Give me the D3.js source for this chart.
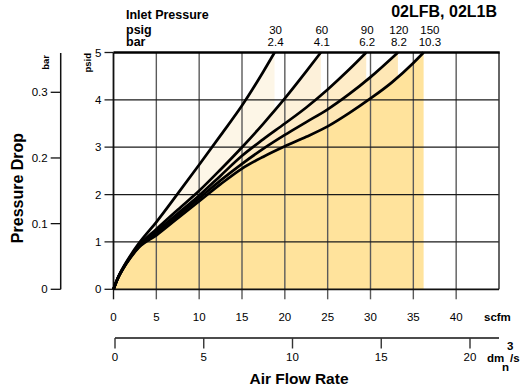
<!DOCTYPE html>
<html>
<head>
<meta charset="utf-8">
<script src="https://cdn.jsdelivr.net/npm/d3@7"></script>
<style>
  html, body { margin: 0; padding: 0; background: #fff; }
  svg { display: block; font-family: "Liberation Sans", Arial, Helvetica, sans-serif; }
</style>
</head>
<body>
<svg id="chart" width="527" height="391"></svg>
<script>
// Inlet pressure series (psig and bar labels)
const inletPsig = [30, 60, 90, 120, 150];
const inletBar = ["2.4", "4.1", "6.2", "8.2", "10.3"];

// Pressure drop curves: [flow scfm, pressure drop psid]
const curve30 = [[0,0],[0.5,0.24],[1,0.42],[2,0.72],[3,0.98],[5,1.42],[7.5,2.02],[10,2.63],[12.5,3.25],[15,3.88],[17.5,4.6],[18.8,5.0]];
const curve60 = [[0,0],[0.5,0.23],[1,0.41],[2,0.7],[3,0.93],[5,1.27],[7.5,1.68],[10,2.08],[12.5,2.53],[15,3.0],[17.5,3.5],[20,4.03],[22.5,4.6],[24.2,5.0]];
const curve90 = [[0,0],[0.5,0.23],[1,0.4],[2,0.69],[3,0.92],[5,1.22],[7.5,1.6],[10,1.98],[12.5,2.4],[15,2.82],[17.5,3.17],[20,3.5],[22.5,3.84],[25,4.22],[27.5,4.64],[29.5,5.0]];
const curve120 = [[0,0],[0.5,0.23],[1,0.4],[2,0.68],[3,0.9],[5,1.18],[7.5,1.55],[10,1.92],[12.5,2.3],[15,2.65],[17.5,2.97],[20,3.26],[22.5,3.53],[25,3.8],[27.5,4.12],[30,4.48],[33.2,5.0]];
const curve150 = [[0,0],[0.5,0.23],[1,0.4],[2,0.67],[3,0.89],[5,1.14],[7.5,1.5],[10,1.86],[12.5,2.22],[15,2.55],[17.5,2.8],[20,3.02],[22.5,3.22],[25,3.44],[27.5,3.72],[30,4.03],[32.5,4.37],[35,4.78],[36.2,5.0]];
const curves = [curve30, curve60, curve90, curve120, curve150];

// Tick values
const scfmTicks = [0, 5, 10, 15, 20, 25, 30, 35, 40];
const psidTicks = [0, 1, 2, 3, 4, 5];
const barTicks = [0, 0.1, 0.2, 0.3];
const dmTicks = [0, 5, 10, 15, 20];

const fills = ["#FDF6E7", "#FDF1DA", "#FEECC8", "#FEE7B5", "#FFE39C"];

const svg = d3.select("#chart");

const x = d3.scaleLinear().domain([0, 45]).range([113.5, 499]);
const y = d3.scaleLinear().domain([0, 5]).range([289.3, 52.5]);
const yBar = d3.scaleLinear().domain([0, 0.3]).range([289.3, 92.3]);
const xDm = d3.scaleLinear().domain([0, 20]).range([115, 470]);

// Areas under each curve (lightest first, so lower curves paint on top)
const area = d3.area()
  .x(d => x(d[0])).y0(y(0)).y1(d => y(d[1]))
  .curve(d3.curveMonotoneX);
svg.append("g").selectAll("path").data(curves).join("path")
  .attr("d", area)
  .attr("fill", (d, i) => fills[i]);

// Grid
const grid = svg.append("g");
grid.selectAll("line.v").data(scfmTicks.filter(t => t > 0)).join("line")
  .attr("x1", d => x(d)).attr("x2", d => x(d))
  .attr("y1", y(5)).attr("y2", y(0) + 10)
  .attr("stroke", "#5a5a5a").attr("stroke-width", 1.4);
grid.selectAll("line.h").data(psidTicks.filter(t => t > 0 && t < 5)).join("line")
  .attr("x1", x(0) - 9).attr("x2", x(45))
  .attr("y1", d => y(d)).attr("y2", d => y(d))
  .attr("stroke", "#1a1a1a").attr("stroke-width", 1.3);
// zero / top ticks on psid axis
grid.selectAll("line.e").data([0, 5]).join("line")
  .attr("x1", x(0) - 9).attr("x2", x(0))
  .attr("y1", d => y(d)).attr("y2", d => y(d))
  .attr("stroke", "#1a1a1a").attr("stroke-width", 1.3);
grid.append("line").attr("x1", x(0)).attr("x2", x(0)).attr("y1", y(0)).attr("y2", y(0) + 10)
  .attr("stroke", "#1a1a1a").attr("stroke-width", 1.4);

// Plot frame
svg.append("line").attr("x1", x(45)).attr("x2", x(45)).attr("y1", y(5)).attr("y2", y(0))
  .attr("stroke", "#333").attr("stroke-width", 1.5);
svg.append("line").attr("x1", x(0)).attr("x2", x(45)).attr("y1", y(0)).attr("y2", y(0))
  .attr("stroke", "#111").attr("stroke-width", 1.8);
svg.append("line").attr("x1", x(0)).attr("x2", x(0)).attr("y1", y(5)).attr("y2", y(0))
  .attr("stroke", "#111").attr("stroke-width", 1.8);
svg.append("line").attr("x1", x(0)).attr("x2", x(45) + 0.75).attr("y1", y(5)).attr("y2", y(5))
  .attr("stroke", "#000").attr("stroke-width", 2.6);

// Curves
const line = d3.line().x(d => x(d[0])).y(d => y(d[1])).curve(d3.curveMonotoneX);
svg.append("g").selectAll("path").data(curves).join("path")
  .attr("d", line)
  .attr("fill", "none").attr("stroke", "#000").attr("stroke-width", 2.7)
  .attr("stroke-linejoin", "round");

// psid tick labels
svg.append("g").selectAll("text").data(psidTicks).join("text")
  .attr("x", x(0) - 12).attr("y", d => y(d) + 4)
  .attr("text-anchor", "end").attr("font-size", 11.5).text(d => d);
svg.append("text").attr("transform", `translate(${91},${53}) rotate(-90)`)
  .attr("text-anchor", "end").attr("font-size", 9.5).attr("font-weight", "bold").text("psid");

// bar axis
const barX = 60.7;
svg.append("line").attr("x1", barX).attr("x2", barX).attr("y1", 53).attr("y2", yBar(0))
  .attr("stroke", "#111").attr("stroke-width", 1.5);
svg.append("g").selectAll("line").data(barTicks).join("line")
  .attr("x1", barX - 10).attr("x2", barX).attr("y1", d => yBar(d)).attr("y2", d => yBar(d))
  .attr("stroke", "#111").attr("stroke-width", 1.3);
svg.append("g").selectAll("text").data(barTicks).join("text")
  .attr("x", barX - 13).attr("y", d => yBar(d) + 4)
  .attr("text-anchor", "end").attr("font-size", 11.5).text(d => d === 0 ? "0" : d3.format(".1f")(d));
svg.append("text").attr("transform", `translate(${49},${55}) rotate(-90)`)
  .attr("text-anchor", "end").attr("font-size", 9.5).attr("font-weight", "bold").text("bar");
svg.append("text").attr("transform", `translate(${23},${188}) rotate(-90)`)
  .attr("text-anchor", "middle").attr("font-size", 16).attr("font-weight", "bold").text("Pressure Drop");

// scfm tick labels
svg.append("g").selectAll("text").data(scfmTicks).join("text")
  .attr("x", d => x(d)).attr("y", 321)
  .attr("text-anchor", "middle").attr("font-size", 11.5).text(d => d);
svg.append("text").attr("x", 484).attr("y", 321)
  .attr("font-size", 11.5).attr("font-weight", "bold").text("scfm");

// dm3n/s axis
svg.append("line").attr("x1", xDm(0)).attr("x2", x(45)).attr("y1", 338).attr("y2", 338)
  .attr("stroke", "#111").attr("stroke-width", 1.6);
svg.append("g").selectAll("line").data(dmTicks).join("line")
  .attr("x1", d => xDm(d)).attr("x2", d => xDm(d)).attr("y1", 338).attr("y2", 348.5)
  .attr("stroke", "#333").attr("stroke-width", 1.4);
svg.append("g").selectAll("text").data(dmTicks).join("text")
  .attr("x", d => xDm(d)).attr("y", 361)
  .attr("text-anchor", "middle").attr("font-size", 11.5).text(d => d);
const unit = svg.append("g").attr("font-size", 11.5).attr("font-weight", "bold");
unit.append("text").attr("x", 487).attr("y", 361.5).text("dm");
unit.append("text").attr("x", 507).attr("y", 350).text("3");
unit.append("text").attr("x", 502).attr("y", 371).text("n");
unit.append("text").attr("x", 510).attr("y", 361.5).text("/s");

svg.append("text").attr("x", 299).attr("y", 384)
  .attr("text-anchor", "middle").attr("font-size", 15.5).attr("font-weight", "bold").text("Air Flow Rate");

// Inlet pressure labels, placed over each curve's end point
const head = svg.append("g").attr("font-size", 12.5).attr("font-weight", "bold");
head.append("text").attr("x", 126).attr("y", 18.5).text("Inlet Pressure");
head.append("text").attr("x", 126).attr("y", 33.5).text("psig");
head.append("text").attr("x", 126).attr("y", 46).text("bar");

const ends = curves.map(c => x(c[c.length - 1][0]));
const labelX = [];
ends.forEach((e, i) => { labelX.push(i === 0 ? e : Math.max(e, labelX[i - 1] + 31)); });
svg.append("g").selectAll("text").data(inletPsig).join("text")
  .attr("x", (d, i) => labelX[i] + 1).attr("y", 33.5)
  .attr("text-anchor", "middle").attr("font-size", 11.5).text(d => d);
svg.append("g").selectAll("text").data(inletBar).join("text")
  .attr("x", (d, i) => labelX[i] + 1).attr("y", 46)
  .attr("text-anchor", "middle").attr("font-size", 11.5).text(d => d);

svg.append("text").attr("x", 497).attr("y", 17)
  .attr("text-anchor", "end").attr("font-size", 16).attr("font-weight", "bold").text("02LFB, 02L1B");
</script>
</body>
</html>
